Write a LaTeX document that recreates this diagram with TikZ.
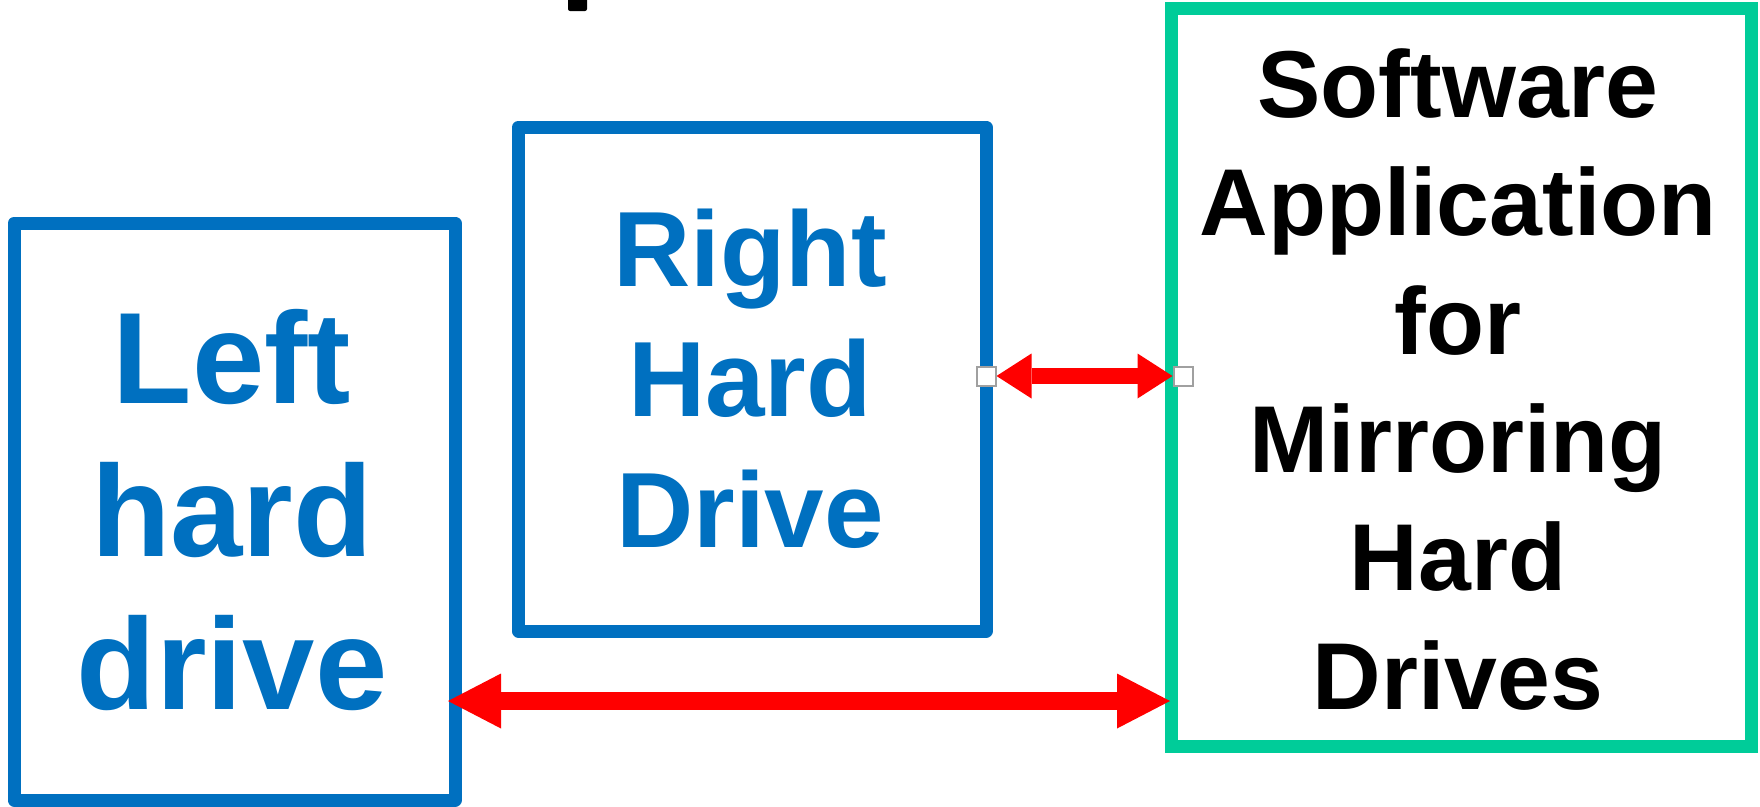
\documentclass[tikz,border=0pt]{standalone}
\usepackage{fontspec}
\setmainfont{Liberation Sans}
\usetikzlibrary{arrows.meta}
\definecolor{hdblue}{HTML}{0070C0}
\definecolor{appgreen}{HTML}{00CC99}
\definecolor{arrred}{HTML}{FF0000}
\definecolor{handlegray}{HTML}{A0A0A0}
\tikzset{
  drivebox/.style={draw=hdblue, line width=13pt, line join=round, outer sep=0pt, inner sep=0pt},
  appbox/.style={draw=appgreen, line width=13pt, line join=miter, outer sep=0pt, inner sep=0pt},
  drivetext/.style={text=hdblue, align=center, inner sep=0pt, anchor=base},
  apptext/.style={text=black, align=center, inner sep=0pt, anchor=base},
  handle/.style={draw=handlegray, fill=white, line width=2pt, minimum size=19pt, inner sep=0pt},
  bigarrow/.style={draw=arrred, line width=18pt,
    {Triangle[length=53pt,width=55pt,line width=0pt]}-{Triangle[length=53pt,width=55pt,line width=0pt]}},
  smallarrow/.style={draw=arrred, line width=16pt,
    {Triangle[length=35pt,width=45pt,line width=0pt]}-{Triangle[length=35pt,width=45pt,line width=0pt]}}
}
\begin{document}
\begin{tikzpicture}[x=1pt,y=-1pt]
\useasboundingbox[fill=white] (0,0) rectangle (1760,806);
% fragment of a cut-off glyph at the top
\fill[black, rounded corners=2pt] (568,-6) rectangle (587,11);
% boxes
\node[drivebox, minimum width=441pt, minimum height=577pt] (L) at (234.5,511.5) {};
\node[drivebox, minimum width=467.5pt, minimum height=504pt] (R) at (752.25,379) {};
\node[appbox, minimum width=579.5pt, minimum height=738pt] (G) at (1461.25,377) {};
% texts (base anchor = baseline of the last line)
\node[drivetext, font=\fontsize{130}{153}\selectfont\bfseries] (Ltext) at (232,709) {Left\\hard\\drive};
\node[drivetext, font=\fontsize{107}{130.5}\selectfont\bfseries] (Rtext) at (750,547) {Right\\Hard\\Drive};
\node[apptext, font=\fontsize{95}{118.3}\selectfont\bfseries] (Gtext) at (1458,709) {Software\\Application\\for\\Mirroring\\Hard\\Drives};
% lower connector
\path (L.east |- 0,701) ++(-7,0) coordinate (la);
\path (G.west |- 0,701) ++(-1.5,0) coordinate (ra);
\draw[bigarrow] (la) -- (ra);
% upper connector with its end handles
\node[handle] (hL) at (R.east |- 0,376) {};
\node[handle] (hR) at (1183,376) {};
\draw[smallarrow] (hL.east) -- (hR.west);
\node[handle] at (hL) {};
\node[handle] at (hR) {};
\end{tikzpicture}
\end{document}
